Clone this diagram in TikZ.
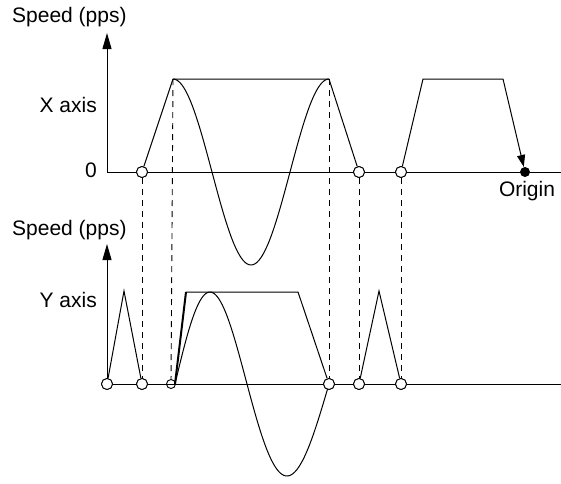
\documentclass[tikz,border=0pt]{standalone}
\usepackage{fontspec}
\setmainfont{Liberation Sans}
\usetikzlibrary{arrows.meta,positioning}
\tikzset{
  axisline/.style={line width=1pt, -{Triangle[length=16pt,width=9pt]}},
  zeroline/.style={line width=1pt},
  profile/.style={line width=1pt, line join=miter},
  boldrise/.style={line width=2pt},
  guide/.style={line width=0.9pt, dash pattern=on 6pt off 5pt},
  stopmark/.style={circle, draw, fill=white, line width=0.9pt,
    inner sep=0pt, minimum size=#1},
  stopmark/.default=11pt,
  origindot/.style={circle, fill=black, inner sep=0pt, minimum size=10pt},
  axislabel/.style={font=\fontsize{21}{24}\selectfont, inner sep=0pt},
}

\begin{document}
\begin{tikzpicture}[x=1pt, y=-1pt]
  \useasboundingbox (0,0) rectangle (561,483);

  % X axis
  \coordinate (xo) at (107,172);
  \coordinate (xtip) at (107,33);
  \coordinate (xend) at (561,172);
  \coordinate (xc1) at (173,79);
  \coordinate (xc2) at (329,79);
  \coordinate (xc3) at (423,79);
  \coordinate (xc4) at (503,79);
  \node[stopmark] (x1) at (142,172) {};
  \node[stopmark] (x2) at (359,172) {};
  \node[stopmark] (x3) at (401,172) {};
  \node[origindot] (odot) at (525,172) {};

  % Y axis
  \coordinate (ytip) at (107,244);
  \coordinate (yend) at (561,384);
  \coordinate (yp1) at (124,291);
  \coordinate (yc1) at (186,292);
  \coordinate (yc2) at (298,292);
  \coordinate (yp2) at (379,291);
  \coordinate (ystart) at (175,384);
  \node[stopmark] (y1) at (107,384) {};
  \node[stopmark] (y2) at (142,384) {};
  \node[stopmark=9pt] (y3) at (171,384) {};
  \node[stopmark] (y4) at (329,384) {};
  \node[stopmark] (y5) at (359,384) {};
  \node[stopmark] (y6) at (401,384) {};

  % guides between the two axes
  \draw[guide] (x1) -- (y2);
  \draw[guide] (xc1) -- (y3);
  \draw[guide] (xc2) -- (y4);
  \draw[guide] (x2) -- (y5);
  \draw[guide] (x3) -- (y6);

  % axes
  \draw[axisline] (xo) -- (xtip);
  \draw[zeroline] (xo) -- (xend);
  \draw[axisline] (y1) -- (ytip);
  \draw[zeroline] (y1) -- (yend);

  % X profile
  \draw[profile] (x1) -- (xc1) -- (xc2) -- (x2);
  \draw[profile] (x3) -- (xc3) -- (xc4);
  \draw[profile, -{Triangle[length=12pt,width=8pt]}] (xc4) -- (odot);
  \draw[profile] plot[domain=0:360, samples=90]
    ({173+\x/360*156}, {172-93*cos(\x)});

  % Y profile
  \draw[profile] (y1) -- (yp1) -- (y2);
  \draw[profile] (yc1) -- (yc2) -- (y4);
  \draw[boldrise] (ystart) -- (yc1);
  \draw[profile] (y5) -- (yp2) -- (y6);
  \draw[profile] plot[domain=0:360, samples=90]
    ({175+\x/360*154 - 5*sin(\x/2)}, {384-92*sin(\x)});

  % redraw marks on top
  \foreach \m in {x1,x2,x3,y1,y2,y4,y5,y6}
    \node[stopmark] at (\m) {};

  % labels
  \node[axislabel, anchor=west] (xspeed) at (12,17) {Speed (pps)};
  \node[axislabel, anchor=east] (xname) at (97,105) {X axis};
  \node[axislabel, anchor=east] (xzero) at (97,170) {0};
  \node[axislabel, anchor=north] (olabel) at (527,181) {Origin};
  \node[axislabel, anchor=west] (yspeed) at (12,230) {Speed (pps)};
  \node[axislabel, anchor=east] (yname) at (97,300) {Y axis};
\end{tikzpicture}
\end{document}
